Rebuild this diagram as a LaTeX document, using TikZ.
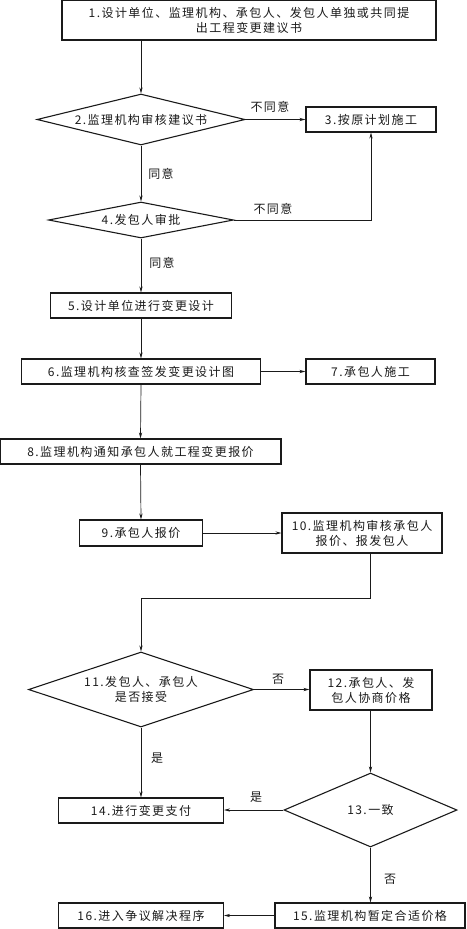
\documentclass[tikz,border=0pt]{standalone}
\usepackage{fontspec}
\usetikzlibrary{arrows.meta,shapes.geometric}
\newfontfamily\cjk{Noto Sans CJK SC}[LetterSpace=12]
\definecolor{ink}{HTML}{1A1A1A}
\tikzset{
  every node/.style={font=\cjk\fontsize{12}{15}\selectfont,text=ink},
  procbox/.style 2 args={draw=ink,line width=1.1pt,inner sep=0pt,align=center,
                         minimum width=#1,minimum height=#2},
  decide/.style n args={3}{draw=ink,line width=1.1pt,diamond,inner sep=0pt,align=center,
                        shape aspect=#3,minimum width=#1,minimum height=#2},
  flow/.style={draw=ink,line width=0.7pt,-{Stealth[length=6pt,width=3.2pt]}},
  lbl/.style={inner sep=1pt},
}

\begin{document}
\begin{tikzpicture}[x=1pt,y=-1pt]
  \useasboundingbox (0,0) rectangle (466,929);
  % upper part: proposal and approval
  \node[procbox={374pt}{40pt}] (prop) at (249,20) {1.设计单位、监理机构、承包人、发包人单独或共同提\\出工程变更建议书};
  \node[decide={208pt}{51pt}{4.08}] (review) at (141,119.5) {2.监理机构审核建议书};
  \node[procbox={130pt}{25pt}] (orig) at (371,119.5) {3.按原计划施工};
  \node[decide={185pt}{36pt}{5.1}] (owner) at (141,220) {4.发包人审批};
  \node[procbox={181pt}{25pt}] (design) at (141,305.5) {5.设计单位进行变更设计};
  \node[procbox={239pt}{25pt}] (sign) at (141,371.5) {6.监理机构核查签发变更设计图};
  \node[procbox={129pt}{25pt}] (build) at (370.5,371.5) {7.承包人施工};
  % pricing
  \node[procbox={281pt}{25pt}] (notify) at (140.5,451.5) {8.监理机构通知承包人就工程变更报价};
  \node[procbox={123pt}{26pt}] (quote) at (141,533) {9.承包人报价};
  \node[procbox={160pt}{40pt}] (check) at (362,533) {10.监理机构审核承包人\\报价、报发包人};
  \node[decide={225pt}{75pt}{3}] (accept) at (141,689.5) {11.发包人、承包人\\是否接受};
  \node[procbox={122pt}{40pt}] (talk) at (371,690) {12.承包人、发\\包人协商价格};
  \node[decide={173pt}{74pt}{2.34}] (agree) at (370.5,810) {13.一致};
  \node[procbox={165pt}{25pt}] (pay) at (141,810.5) {14.进行变更支付};
  \node[procbox={190pt}{25pt}] (temp) at (370,915.5) {15.监理机构暂定合适价格};
  \node[procbox={165pt}{25pt}] (dispute) at (141,915.5) {16.进入争议解决程序};

  \node[lbl] (no1) at (270,107) {不同意};
  \node[lbl] (no2) at (273,209) {不同意};
  \node[lbl] (yes1) at (161,174) {同意};
  \node[lbl] (yes2) at (162,263) {同意};
  \node[lbl] (no3) at (278,679) {否};
  \node[lbl] (yes3) at (157,758) {是};
  \node[lbl] (yes4) at (256,797) {是};
  \node[lbl] (no4) at (390,879) {否};

  \draw[flow] (prop.south -| review.north) -- (review.north);
  \draw[flow] (review.east) -- (orig.west);
  \draw[flow] (review.south) -- (owner.north);
  \draw[flow] (owner.east) -| (orig.south);
  \draw[flow] (owner.south) -- (design.north);
  \draw[flow] (design.south) -- (sign.north);
  \draw[flow] (sign.east) -- (build.west);
  \draw[flow] (sign.south) -- (notify.north);
  \draw[flow] (notify.south) -- (quote.north);
  \draw[flow] (quote.east) -- (check.west);
  \draw[flow] (check.south -| agree.north) -- ++(0,45) -| (accept.north);
  \draw[flow] (accept.east) -- (accept.east -| talk.west);
  \draw[flow] (talk.south -| agree.north) -- (agree.north);
  \draw[flow] (accept.south) -- (pay.north);
  \draw[flow] (agree.west) -- (agree.west -| pay.east);
  \draw[flow] (agree.south) -- (agree.south |- temp.north);
  \draw[flow] (temp.west) -- (dispute.east);
\end{tikzpicture}
\end{document}
